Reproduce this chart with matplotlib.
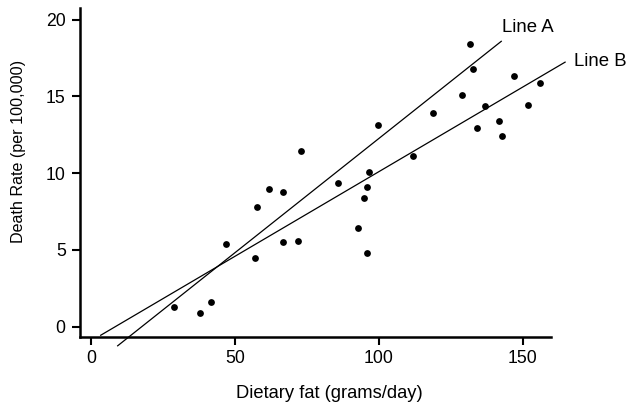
import numpy as np
from matplotlib import pyplot as plt

plt.rcParams['font.family'] = ['Liberation Sans', 'DejaVu Sans']

# dietary fat (grams/day) vs death rate (per 100,000)
fat = [28.8, 37.7, 41.6, 46.8, 56.8, 57.8, 61.8, 66.8, 66.8, 71.8,
       72.9, 85.8, 92.8, 94.8, 95.8, 95.8, 96.7, 99.8, 111.8, 118.8,
       128.9, 131.9, 132.9, 134.1, 137.0, 141.9, 142.9, 147.0, 151.8, 155.9]
rate = [1.30, 0.89, 1.59, 5.40, 4.49, 7.79, 8.98, 8.79, 5.49, 5.60,
        11.42, 9.38, 6.40, 8.38, 9.10, 4.80, 10.09, 13.10, 11.11, 13.91,
        15.10, 18.42, 16.80, 12.91, 14.39, 13.41, 12.40, 16.32, 14.41, 15.89]

# the two candidate lines: x range, slope, intercept
lineA_x = [9.2, 142.6]
lineA_coef = [0.1486, -2.61]
lineB_x = [3.3, 164.8]
lineB_coef = [0.1101, -0.92]

xticks = [0, 50, 100, 150]
yticks = [0, 5, 10, 15, 20]

W, H = 629, 407
fig = plt.figure(figsize=(W/100, H/100), dpi=100)
ax = fig.add_axes([80/W, (H-337.3)/H, 471.3/W, 329/H])

ax.scatter(fat, rate, s=24, color='black', zorder=3, linewidths=0)

for xs, (m, b) in [(lineA_x, lineA_coef), (lineB_x, lineB_coef)]:
    xs = np.array(xs)
    ax.plot(xs, m*xs + b, color='black', lw=0.9, clip_on=False)

ax.text(142.9, 19.45, 'Line A', fontsize=13.4, ha='left', va='center')
ax.text(168.0, 17.25, 'Line B', fontsize=13.4, ha='left', va='center')

ax.set_xlim(-3.9, 160)
ax.set_ylim(-0.69, 20.73)
ax.set_xticks(xticks)
ax.set_yticks(yticks)
ax.tick_params(labelsize=12.7, width=1.5, length=5.8, color='black')
ax.tick_params(axis='x', pad=3.5)
ax.tick_params(axis='y', pad=4.5)

for s in ['top', 'right']:
    ax.spines[s].set_visible(False)
for s in ['left', 'bottom']:
    ax.spines[s].set_linewidth(1.8)

fig.text(329/W, 1 - 393/H, 'Dietary fat (grams/day)', fontsize=13.2,
         ha='center', va='center')
fig.text(19/W, 1 - 151/H, 'Death Rate (per 100,000)', fontsize=11.6,
         ha='center', va='center', rotation=90)

fig.savefig('out.png', dpi=100)
